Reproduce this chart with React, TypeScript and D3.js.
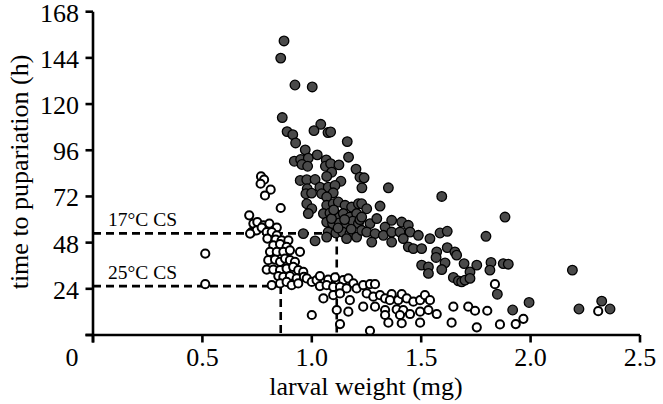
import React from "react";
import * as d3 from "d3";

// 25°C culture (open circles): [larval weight (mg), time to pupariation (h)]
const open25: [number, number][] = [
  [0.768,82.4],[0.782,80.7],[0.766,78.6],[0.812,75.5],[0.786,72.5],[0.858,66.0],[0.714,62.2],[0.513,42.3],[0.513,26.4],
  [0.733,57.9],[0.751,58.7],[0.779,57.0],[0.806,57.9],[0.840,55.8],[0.725,53.5],[0.748,54.4],[0.771,55.8],[0.794,53.5],
  [0.817,53.5],[0.840,51.8],[0.718,52.7],[0.797,50.1],[0.835,49.6],[0.862,49.2],[0.893,49.2],[0.824,46.6],[0.855,47.2],
  [0.885,45.8],[0.809,43.2],[0.840,43.2],[0.870,43.2],[0.900,44.0],[0.946,43.2],[0.801,38.9],[0.832,39.2],[0.855,38.0],
  [0.878,39.7],[0.900,38.9],[0.923,38.0],[0.794,34.0],[0.824,34.0],[0.855,33.7],[0.885,34.5],[0.915,35.4],[0.938,33.7],
  [0.961,32.8],[0.847,30.6],[0.870,30.2],[0.900,30.6],[0.931,29.4],[0.964,30.2],[0.817,25.9],[0.855,26.8],[0.885,27.6],
  [0.908,25.9],[0.938,26.8],[0.977,29.4],[1.000,27.6],[1.022,28.5],[1.037,30.6],[1.075,28.8],[1.106,29.9],[1.144,28.5],
  [1.167,29.4],[1.190,26.8],[1.037,25.4],[1.068,25.9],[1.098,25.0],[1.129,25.0],[1.159,24.2],[1.205,24.2],[1.053,19.0],
  [1.098,20.7],[1.129,21.6],[1.174,18.1],[1.114,13.0],[1.167,12.1],[1.000,10.4],[1.129,5.7],
  [1.235,25.9],[1.266,26.4],[1.289,26.4],[1.251,21.6],[1.281,19.9],[1.312,20.7],[1.335,19.0],[1.365,21.2],[1.357,18.1],
  [1.395,18.1],[1.411,21.2],[1.434,19.0],[1.464,17.3],[1.495,18.1],[1.517,20.7],[1.540,18.1],[1.235,14.7],[1.289,14.7],
  [1.335,13.0],[1.388,13.3],[1.418,13.0],[1.449,10.9],[1.495,12.1],[1.533,13.0],[1.571,10.9],[1.335,10.4],[1.403,10.4],
  [1.350,6.4],[1.411,6.1],[1.495,6.4],[1.266,2.2],[1.647,14.7],[1.715,14.7],[1.746,12.6],[1.802,12.6],[1.639,6.4],
  [1.754,4.0],[1.860,5.5],[1.932,5.7],[1.967,8.4],[2.309,12.4],[1.837,26.4],
];

// 17°C culture (filled circles)
const filled17: [number, number][] = [
  [0.873,152.8],[0.858,143.9],[0.923,129.9],[1.002,128.9],[0.865,113.0],[0.887,105.7],[0.913,104.1],[0.926,99.8],
  [1.041,109.5],[1.010,106.2],[1.074,105.2],[1.086,105.5],[1.162,100.5],[0.970,96.2],[0.920,90.3],[0.949,91.2],
  [0.984,91.9],[1.025,93.6],[0.955,88.6],[0.981,87.7],[1.066,91.0],[1.062,87.7],[1.086,89.0],[1.124,88.4],[1.168,92.4],
  [1.202,86.2],[1.220,82.0],[1.239,81.7],[1.091,84.6],[1.068,82.4],[0.947,80.3],[0.977,80.7],[1.015,80.8],[1.133,79.9],
  [1.229,76.5],[0.979,76.0],[1.037,76.8],[1.075,76.8],[1.106,77.7],[0.973,73.4],[0.999,73.7],[1.045,73.4],[1.098,73.9],
  [1.068,71.7],
  [0.977,68.2],[1.000,65.6],[0.984,63.1],[1.068,67.4],[1.098,68.2],[1.121,69.1],[1.152,67.4],[1.182,66.5],[1.213,68.2],
  [1.053,63.1],[1.083,63.4],[1.114,62.2],[1.144,63.1],[1.174,61.3],[1.205,63.1],[1.068,58.7],[1.095,57.9],[1.126,58.2],
  [1.156,57.5],[1.187,59.2],[1.213,57.9],[1.075,53.5],[1.110,53.0],[1.141,53.5],[1.174,52.7],[1.205,50.9],[0.961,52.7],
  [1.015,48.9],[1.068,50.9],[1.159,50.1],[1.090,60.5],[1.120,55.6],[1.150,60.0],[1.180,55.0],[1.220,60.0],[1.100,65.0],
  [1.350,76.5],[1.594,72.0],[1.228,68.2],[1.251,65.6],[1.312,67.0],[1.883,61.3],[1.228,61.3],[1.266,57.9],[1.297,60.5],
  [1.335,56.1],[1.365,59.6],[1.411,58.7],[1.441,57.0],[1.228,54.4],[1.251,53.5],[1.289,52.7],[1.327,51.8],[1.365,53.5],
  [1.403,53.5],[1.449,53.5],[1.487,51.8],[1.540,50.1],[1.586,53.0],[1.619,53.9],[1.274,48.3],[1.365,48.3],[1.418,50.1],
  [1.441,45.8],[1.464,44.9],[1.502,44.9],[1.571,43.2],[1.619,45.4],[1.654,43.2],[1.662,41.5],[1.796,51.3],[1.568,40.3],
  [1.609,37.5],[1.594,34.0],[1.502,36.3],[1.533,35.4],[1.533,32.0],[1.647,29.9],[1.670,28.1],[1.685,27.6],[1.700,28.5],
  [1.723,32.8],[1.723,29.4],[1.696,37.1],[1.754,36.3],[1.819,37.7],[1.814,33.7],[1.875,37.1],[1.898,36.8],[2.191,33.7],
  [1.848,21.2],[1.918,13.0],[1.993,16.9],[2.221,13.5],[2.325,17.6],[2.363,13.5],
];

// critical size reference lines: [weight (mg), time (h)]
const csLabels = ["17°C CS", "25°C CS"];
const csWeight = [1.114, 0.858];
const csTime = [52.8, 25.4];

const xTicks = [0, 0.5, 1.0, 1.5, 2.0, 2.5];
const xTickLabels = ["0", "0.5", "1.0", "1.5", "2.0", "2.5"];
const yTicks = [0, 24, 48, 72, 96, 120, 144, 168];

const W = 663;
const H = 404;
const FONT = "'Liberation Serif', 'Times New Roman', serif";

export default function App() {
  const x = d3.scaleLinear().domain([0, 2.5]).range([93, 640]);
  const y = d3.scaleLinear().domain([0, 168]).range([335, 11.7]);
  const tick = 7.5;

  return (
    <svg
      width={W}
      height={H}
      style={{ position: "absolute", left: 0, top: 0, background: "#fff" }}
      fontFamily={FONT}
    >
      {/* reference dashed lines */}
      {csWeight.map((w, i) => (
        <g key={"cs" + i} stroke="#000" strokeWidth={2.6} strokeDasharray="8,5" fill="none">
          <line x1={x(0)} x2={x(w)} y1={y(csTime[i])} y2={y(csTime[i])} />
          <line x1={x(w)} x2={x(w)} y1={y(csTime[i])} y2={y(0)} />
        </g>
      ))}
      {csLabels.map((l, i) => (
        <text key={"cl" + i} x={x(0) + 15} y={y(csTime[i]) - 7} fontSize={19.5} fill="#000">
          {l}
        </text>
      ))}

      {/* points */}
      {filled17.map(([w, t], i) => (
        <circle key={"f" + i} cx={x(w)} cy={y(t)} r={4.8} fill="#4a4a4a" stroke="#000" strokeWidth={1.3} />
      ))}
      {open25.map(([w, t], i) => (
        <circle key={"o" + i} cx={x(w)} cy={y(t)} r={4.1} fill="#fff" stroke="#000" strokeWidth={2} />
      ))}

      {/* axes */}
      <g stroke="#000" strokeWidth={2.6} fill="none">
        <line x1={x(0) - tick} x2={x(2.5)} y1={y(0)} y2={y(0)} />
        <line x1={x(0)} x2={x(0)} y1={y(168)} y2={y(0) + tick} />
        {xTicks.map((v) => (
          <line key={"xt" + v} x1={x(v)} x2={x(v)} y1={y(0)} y2={y(0) + tick} />
        ))}
        {yTicks.map((v) => (
          <line key={"yt" + v} x1={x(0) - tick} x2={x(0)} y1={y(v)} y2={y(v)} />
        ))}
      </g>
      {xTicks.map((v, i) =>
        i === 0 ? null : (
          <text key={"xl" + v} x={x(v)} y={366} textAnchor="middle" fontSize={26} fill="#000">
            {xTickLabels[i]}
          </text>
        )
      )}
      <text x={72} y={366} textAnchor="middle" fontSize={26} fill="#000">0</text>
      {yTicks.map((v) =>
        v === 0 ? null : (
          <text key={"yl" + v} x={79} y={y(v) + 10} textAnchor="end" fontSize={26} fill="#000">
            {v}
          </text>
        )
      )}
      <text x={366} y={395} textAnchor="middle" fontSize={26} fill="#000">
        larval weight (mg)
      </text>
      <text
        transform={`translate(28,${172}) rotate(-90)`}
        textAnchor="middle"
        fontSize={26}
        fill="#000"
      >
        time to pupariation (h)
      </text>
    </svg>
  );
}
